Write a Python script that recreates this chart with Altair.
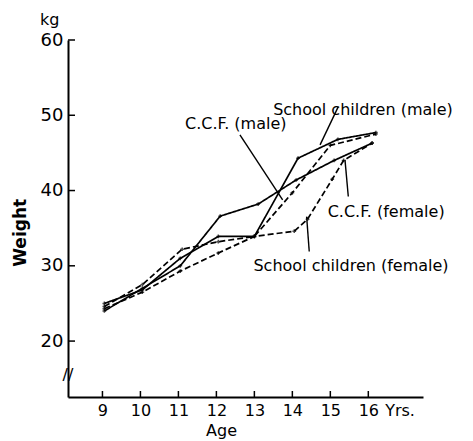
import altair as alt
import pandas as pd

# ---------------- data ----------------
series_names = ["School children (male)", "C.C.F. (female)", "C.C.F. (male)", "School children (female)"]

sc_male_age = [9.05, 10.05, 11.05, 12.05, 13.0, 14.15, 15.2, 16.2]
sc_male_wt = [25.0, 26.8, 31.0, 33.9, 33.9, 44.3, 46.8, 47.7]

ccf_female_age = [9.05, 10.05, 11.05, 12.1, 13.1, 14.1, 15.1, 16.1]
ccf_female_wt = [24.0, 27.0, 30.0, 36.6, 38.2, 41.4, 44.0, 46.3]

ccf_male_age = [9.05, 10.05, 11.1, 12.05, 13.0, 14.0, 15.0, 16.2]
ccf_male_wt = [24.6, 27.5, 32.2, 33.2, 33.9, 39.7, 46.0, 47.5]

sc_female_age = [9.05, 10.05, 11.05, 12.05, 13.0, 14.05, 14.4, 15.05, 15.35, 16.1]
sc_female_wt = [24.3, 26.5, 29.3, 31.7, 33.9, 34.6, 36.2, 41.5, 44.0, 46.3]

x_ticks = [9, 10, 11, 12, 13, 14, 15, 16]
y_ticks = [20, 30, 40, 50, 60]

label_text = ["School children (male)", "C.C.F. (male)", "C.C.F. (female)", "School children (female)"]
label_x = [15.86, 12.51, 16.47, 15.545]
label_y = [50.7, 48.85, 37.17, 30.0]
arrow_x = [15.21, 12.62, 15.473, 14.445]
arrow_y = [51.15, 47.39, 39.2, 31.9]
arrow_x2 = [14.73, 13.744, 15.386, 14.376]
arrow_y2 = [46.06, 38.76, 44.07, 36.54]

extra_text = ["kg", "Yrs.", "Age", "//"]
extra_x = [7.61, 16.835, 12.136, 8.093]
extra_y = [62.65, 10.66, 8.0, 15.5]

# ---------------- tables ----------------
rows = []
for name, ages, wts in [
    (series_names[0], sc_male_age, sc_male_wt),
    (series_names[1], ccf_female_age, ccf_female_wt),
    (series_names[2], ccf_male_age, ccf_male_wt),
    (series_names[3], sc_female_age, sc_female_wt),
]:
    for i, (a, w) in enumerate(zip(ages, wts)):
        rows.append({"series": name, "x": a, "y": w, "order": i})
lines_df = pd.DataFrame(rows)

labels_df = pd.DataFrame({"text": label_text, "x": label_x, "y": label_y})
arrows_df = pd.DataFrame({"x": arrow_x, "y": arrow_y, "x2": arrow_x2, "y2": arrow_y2})
extra_df = pd.DataFrame({"text": extra_text, "x": extra_x, "y": extra_y})
xt_df = pd.DataFrame({"x": x_ticks})
yt_df = pd.DataFrame({"y": y_ticks})
weight_df = pd.DataFrame({"text": ["Weight"], "x": [6.86], "y": [34.38]})

W, H = 355, 357
XS = alt.Scale(domain=[8.093, 17.44], nice=False, zero=False)
YS = alt.Scale(domain=[12.57, 60], nice=False, zero=False)
FONT = "DejaVu Sans"

base_lines = alt.Chart(lines_df).mark_line(strokeWidth=1.7, color="black").encode(
    x=alt.X("x:Q", scale=XS, axis=alt.Axis(
        values=x_ticks, title=None, ticks=False, grid=False, domainColor="black",
        domainWidth=2, labelFont=FONT, labelFontSize=16, labelColor="black", labelPadding=5)),
    y=alt.Y("y:Q", scale=YS, axis=alt.Axis(
        values=y_ticks, title=None, ticks=False, grid=False, domainColor="black",
        domainWidth=2, labelFont=FONT, labelFontSize=18, labelColor="black", labelPadding=5)),
    strokeDash=alt.StrokeDash("series:N", scale=alt.Scale(
        domain=series_names, range=[[1, 0], [1, 0], [6, 3], [6, 3]]), legend=None),
    detail="series:N",
    order="order:Q",
)

points = alt.Chart(lines_df).mark_point(shape="cross", size=14, filled=True, color="black").encode(
    x=alt.X("x:Q", scale=XS), y=alt.Y("y:Q", scale=YS))

arrows = alt.Chart(arrows_df).mark_rule(strokeWidth=1.4, color="black").encode(
    x=alt.X("x:Q", scale=XS), y=alt.Y("y:Q", scale=YS), x2="x2:Q", y2="y2:Q")

labels = alt.Chart(labels_df).mark_text(font=FONT, fontSize=16, color="black").encode(
    x=alt.X("x:Q", scale=XS), y=alt.Y("y:Q", scale=YS), text="text:N")

extras = alt.Chart(extra_df).mark_text(font=FONT, fontSize=16, color="black").encode(
    x=alt.X("x:Q", scale=XS), y=alt.Y("y:Q", scale=YS), text="text:N")

weight = alt.Chart(weight_df).mark_text(font=FONT, fontSize=17, fontWeight="bold", angle=270,
                                        color="black").encode(
    x=alt.X("x:Q", scale=XS), y=alt.Y("y:Q", scale=YS), text="text:N")

xticks = alt.Chart(xt_df).mark_rule(strokeWidth=1.5, color="black").encode(
    x=alt.X("x:Q", scale=XS), y=alt.value(H), y2=alt.value(H - 6))

yticks = alt.Chart(yt_df).mark_rule(strokeWidth=1.5, color="black").encode(
    y=alt.Y("y:Q", scale=YS), x=alt.value(0), x2=alt.value(7))

chart = alt.layer(base_lines, points, arrows, labels, extras, weight, xticks, yticks).properties(
    width=W, height=H,
    autosize=alt.AutoSizeParams(type="none"),
    padding={"left": 60, "top": 32, "right": 42, "bottom": 42},
).configure_view(stroke=None)

chart.save("out.html", embed_options={"renderer": "svg", "actions": False})
